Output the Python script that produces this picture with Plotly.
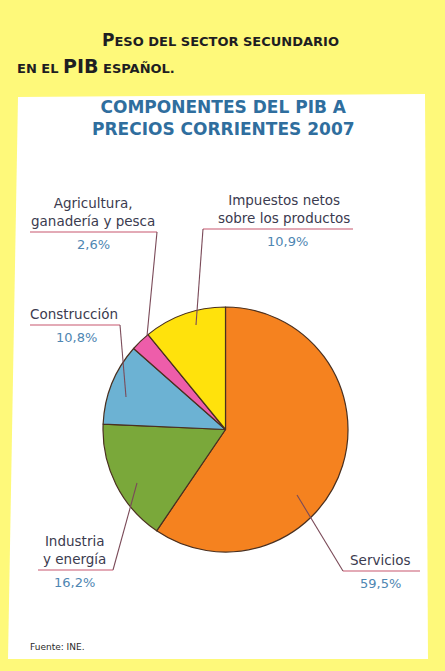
import plotly.graph_objects as go

# ---- data ----
categories = ["Servicios", "Industria<br>y energía", "Construcción",
              "Agricultura,<br>ganadería y pesca", "Impuestos netos<br>sobre los productos"]
values = [59.5, 16.2, 10.8, 2.6, 10.9]
slice_colors = ["#F5821F", "#7AA83A", "#6CB2D3", "#EE5DAA", "#FFE20C"]

W, H = 445, 671

fig = go.Figure()

# pie (domain in paper coords derived from pixel box)
px0, px1, py0, py1 = 103, 348, 307, 552
fig.add_trace(go.Pie(
    labels=[c.replace("<br>", " ") for c in categories], values=values,
    sort=False, direction="clockwise", rotation=0,
    marker=dict(colors=slice_colors, line=dict(color="#4a3020", width=1.2)),
    textinfo="none", hoverinfo="label+percent", showlegend=False,
    domain=dict(x=[px0 / W, px1 / W], y=[1 - py1 / H, 1 - py0 / H]),
))

# invisible pixel-space axes for overlay
fig.update_xaxes(range=[0, W], visible=False, fixedrange=True)
fig.update_yaxes(range=[H, 0], visible=False, fixedrange=True)

shapes = []
# background panel
shapes.append(dict(type="path", xref="x", yref="y", layer="below",
                   path="M 18 97 L 425 94 L 428 659 L 8 659 Z",
                   fillcolor="#FFFFFF", line=dict(width=0)))

# label layout: (name_x, underline_y, underline_x0, underline_x1, pct_x, leader_from, leader_to)
label_pos = [
    (380, 571, 343, 420, 380, (343, 571), (297, 495)),
    (74, 570, 38, 113, 74, (113, 570), (137, 483)),
    (74, 325, 30, 120, 76, (120, 325), (126, 397)),
    (93, 232, 30, 157, 93, (157, 232), (147, 336)),
    (284, 229, 203, 353, 287, (203, 229), (196, 325)),
]

annotations = []
for cat, val, (nx, uy, ux0, ux1, pxx, lf, lt) in zip(categories, values, label_pos):
    shapes.append(dict(type="line", xref="x", yref="y", layer="above",
                       x0=ux0, x1=ux1, y0=uy, y1=uy,
                       line=dict(color="#C8566E", width=1.2)))
    shapes.append(dict(type="line", xref="x", yref="y", layer="above",
                       x0=lf[0], y0=lf[1], x1=lt[0], y1=lt[1],
                       line=dict(color="#7A4A58", width=1.1)))
    annotations.append(dict(xref="x", yref="y", x=nx, y=uy - 1, text=cat,
                            showarrow=False, xanchor="center", yanchor="bottom",
                            font=dict(family="DejaVu Sans", size=13.5, color="#3B3B4F"),
                            align="center"))
    annotations.append(dict(xref="x", yref="y", x=pxx, y=uy + 3,
                            text=f"{val:.1f}".replace(".", ",") + "%",
                            showarrow=False, xanchor="center", yanchor="top",
                            font=dict(family="DejaVu Sans", size=13, color="#4E86B2")))

# page header (small caps)
big, small = 17, 13
def sc(word_big, word_small):
    return (f"<span style='font-size:{big}px'>{word_big}</span>"
            f"<span style='font-size:{small}px'>{word_small}</span>")

line1 = sc("P", "ESO") + f"<span style='font-size:{small}px'> DEL SECTOR SECUNDARIO</span>"
line2 = (f"<span style='font-size:{small}px'>EN EL </span>"
         f"<span style='font-size:{big + 2}px'>PIB</span>"
         f"<span style='font-size:{small}px'> ESPAÑOL.</span>")
annotations.append(dict(xref="x", yref="y", x=100, y=40, text=f"<b>{line1}</b>",
                        showarrow=False, xanchor="left", yanchor="middle",
                        font=dict(family="DejaVu Sans", size=small, color="#1E1E22")))
annotations.append(dict(xref="x", yref="y", x=15, y=66, text=f"<b>{line2}</b>",
                        showarrow=False, xanchor="left", yanchor="middle",
                        font=dict(family="DejaVu Sans", size=small, color="#1E1E22")))

# chart title
annotations.append(dict(xref="x", yref="y", x=223, y=118,
                        text="<b>COMPONENTES DEL PIB A<br>PRECIOS CORRIENTES 2007</b>",
                        showarrow=False, xanchor="center", yanchor="middle",
                        font=dict(family="DejaVu Sans", size=17, color="#2F6E9E")))

# source
annotations.append(dict(xref="x", yref="y", x=28, y=647, text="Fuente: INE.",
                        showarrow=False, xanchor="left", yanchor="middle",
                        font=dict(family="DejaVu Sans", size=9, color="#2A2A2A")))

fig.update_layout(
    width=W, height=H,
    margin=dict(l=0, r=0, t=0, b=0),
    paper_bgcolor="#FEF97A", plot_bgcolor="rgba(0,0,0,0)",
    shapes=shapes, annotations=annotations,
    showlegend=False,
)

fig.write_html("out.html", config={"displayModeBar": False},
               post_script="document.body.style.margin='0';document.body.style.overflow='hidden';")
